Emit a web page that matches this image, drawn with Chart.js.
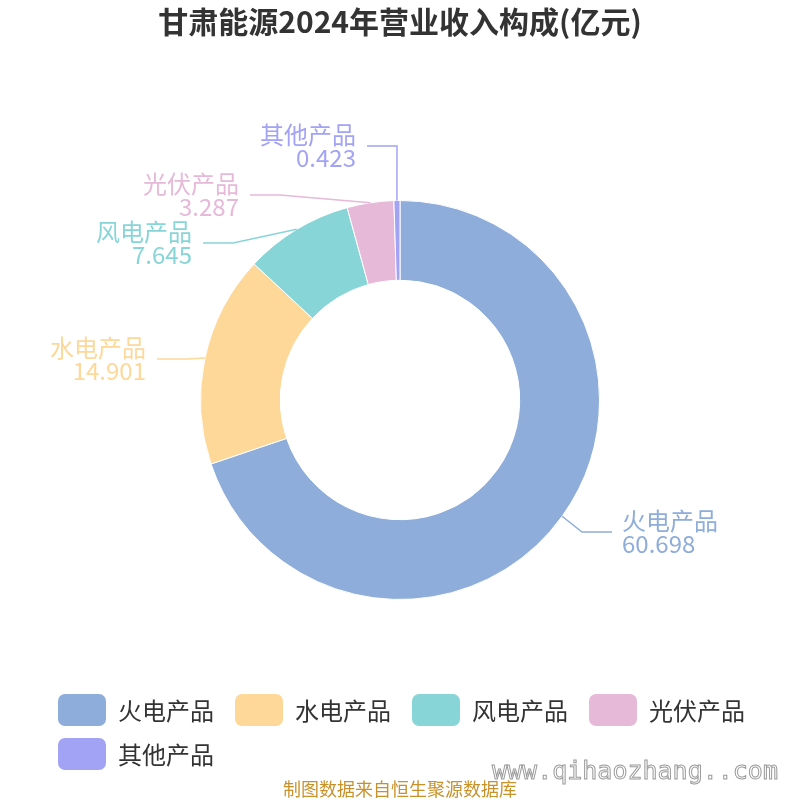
<!DOCTYPE html>
<html>
<head>
<meta charset="utf-8">
<script src="https://cdn.jsdelivr.net/npm/chart.js@4.4.1/dist/chart.umd.min.js"></script>
<style>
  body { margin: 0; background: #fff; }
  canvas { display: block; }
</style>
</head>
<body>
<canvas id="pie-chart" width="800" height="800"></canvas>
<script>
const categories = ["火电产品", "水电产品", "风电产品", "光伏产品", "其他产品"];
const revenue = [60.698, 14.901, 7.645, 3.287, 0.423];
const colors = ["#8eaddb", "#fed899", "#88d5d8", "#e6b9d8", "#a3a3f5"];

// elbow point of each leader line, relative to the pie centre
const labelElbows = [[182, 132], [-213, -41], [-167, -157], [-120, -205], [-3, -254]];

const FONT = '"Noto Sans CJK SC", "Noto Sans", sans-serif';

const drawLabels = (chart) => {
  const ctx = chart.ctx;
  const arcs = chart.getDatasetMeta(0).data;
  ctx.save();
  ctx.font = `24px ${FONT}`;
  ctx.textBaseline = "middle";
  arcs.forEach((arc, i) => {
    const { x, y, startAngle, endAngle, outerRadius } = arc.getProps(
      ["x", "y", "startAngle", "endAngle", "outerRadius"],
      true,
    );
    const mid = (startAngle + endAngle) / 2;
    const sx = x + Math.cos(mid) * outerRadius;
    const sy = y + Math.sin(mid) * outerRadius;
    const ex = x + labelElbows[i][0];
    const ey = y + labelElbows[i][1];
    const right = labelElbows[i][0] > 0;
    const lx = ex + (right ? 30 : -30);

    ctx.strokeStyle = colors[i];
    ctx.lineWidth = 1.5;
    ctx.beginPath();
    ctx.moveTo(sx, sy);
    ctx.lineTo(ex, ey);
    ctx.lineTo(lx, ey);
    ctx.stroke();

    ctx.fillStyle = colors[i];
    ctx.textAlign = right ? "left" : "right";
    const tx = lx + (right ? 10 : -11);
    ctx.fillText(categories[i], tx, ey - 11);
    ctx.fillText(revenue[i].toFixed(3), tx, ey + 12);
  });
  ctx.restore();
};

const drawLegend = (chart) => {
  const ctx = chart.ctx;
  ctx.save();
  ctx.font = `24px ${FONT}`;
  ctx.textBaseline = "middle";
  ctx.textAlign = "left";
  let x = 58;
  let y = 694;
  categories.forEach((name, i) => {
    const w = 48 + 12 + ctx.measureText(name).width;
    if (x + w > 760) {
      x = 58;
      y += 44;
    }
    ctx.fillStyle = colors[i];
    ctx.beginPath();
    ctx.roundRect(x, y, 48, 32, 7);
    ctx.fill();
    ctx.fillStyle = "#333";
    ctx.fillText(name, x + 60, y + 17);
    x += w + 21;
  });
  ctx.restore();
};

const decorations = {
  id: "decorations",
  afterDraw(chart) {
    const ctx = chart.ctx;
    ctx.save();
    ctx.fillStyle = "#333";
    ctx.textAlign = "center";
    ctx.textBaseline = "middle";
    ctx.font = `bold 30px ${FONT}`;
    ctx.fillText("甘肃能源2024年营业收入构成(亿元)", 400, 22);

    ctx.font = '25px "DejaVu Sans Mono", monospace';
    ctx.strokeStyle = "#9a9a9a";
    ctx.lineWidth = 1;
    ctx.textAlign = "left";
    ctx.strokeText("www.qihaozhang..com", 492, 772);

    ctx.font = `18px ${FONT}`;
    ctx.fillStyle = "#c8922b";
    ctx.textAlign = "center";
    ctx.fillText("制图数据来自恒生聚源数据库", 400, 789);
    ctx.restore();

    drawLabels(chart);
    drawLegend(chart);
  },
};

new Chart(document.getElementById("pie-chart"), {
  type: "doughnut",
  data: {
    labels: categories,
    datasets: [
      {
        data: revenue,
        backgroundColor: colors,
        borderColor: "#fff",
        borderWidth: 1,
      },
    ],
  },
  options: {
    responsive: false,
    animation: false,
    cutout: "60%",
    layout: { padding: { top: 200, bottom: 200, left: 200, right: 200 } },
    plugins: {
      legend: { display: false },
      tooltip: { enabled: false },
    },
  },
  plugins: [decorations],
});
</script>
</body>
</html>
